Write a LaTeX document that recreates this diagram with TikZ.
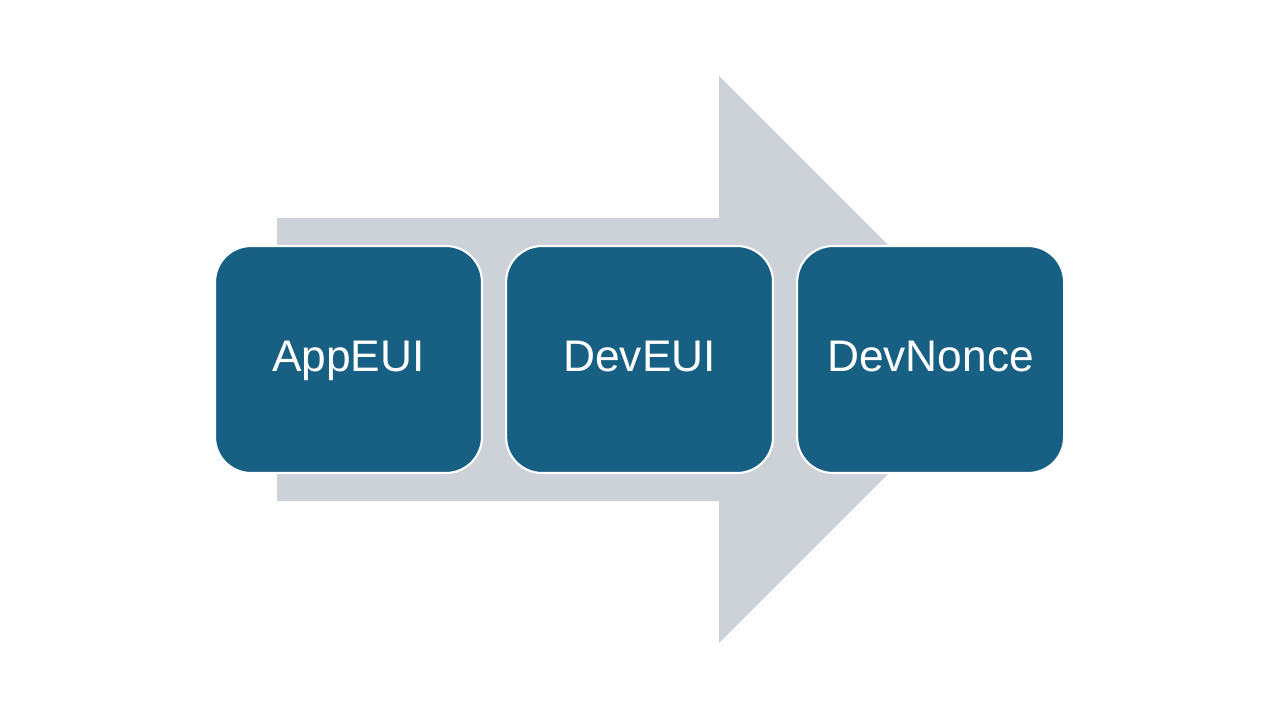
\documentclass[tikz,border=0pt]{standalone}
\usepackage{fontspec}
\usepackage{xcolor}
\usetikzlibrary{positioning}
\setmainfont{Liberation Sans}
\definecolor{KeyBlue}{HTML}{176083}
\definecolor{ArrowGrey}{HTML}{CDD2D8}

\tikzset{
  keybox/.style={
    rounded corners=0.72cm,
    fill=KeyBlue,
    draw=white,
    line width=1.2pt,
    minimum width=5.34cm,
    minimum height=4.54cm,
    text height=17pt,
    text depth=2.8pt,
    text=white,
    font=\fontsize{25.2}{30}\selectfont
  }
}

\begin{document}
\begin{tikzpicture}[x=0.02cm,y=-0.02cm]
    \useasboundingbox (0,0) rectangle (1280,720);
    % background arrow
    \fill[ArrowGrey] (277,218) -- (719,218) -- (719,76) -- (1002.5,359.5)
      -- (719,643) -- (719,501) -- (277,501) -- cycle;
    \node[keybox] (app) at (348.5,359.5) {AppEUI};
    \node[keybox, right=0.44cm of app] (dev) {DevEUI};
    \node[keybox, right=0.44cm of dev] (nonce) {DevNonce};
  \end{tikzpicture}
\end{document}
